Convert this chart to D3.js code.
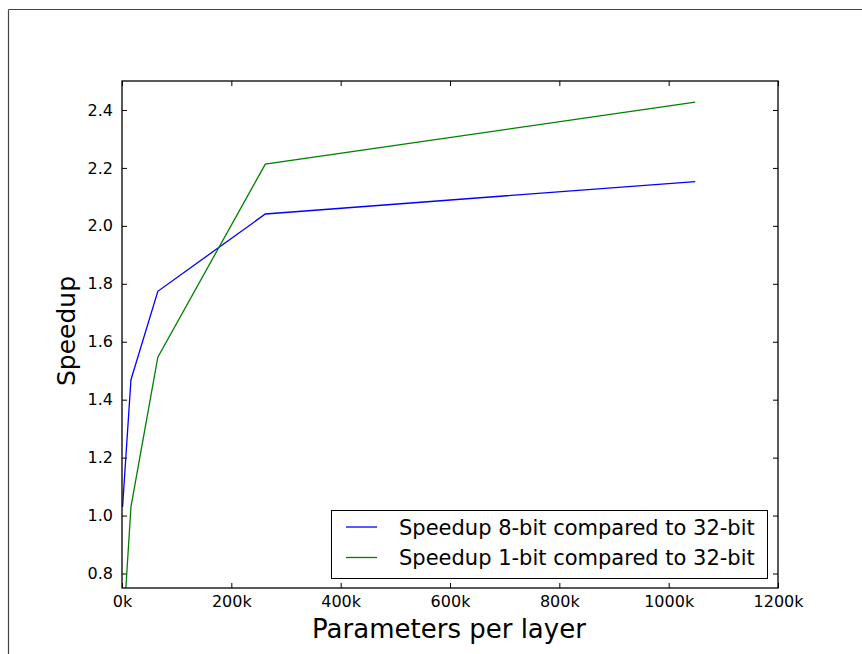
<!DOCTYPE html>
<html>
<head>
<meta charset="utf-8">
<script src="https://cdn.jsdelivr.net/npm/d3@7"></script>
<style>
  body { margin: 0; background: #fff; }
  svg { display: block; font-family: "DejaVu Sans", sans-serif; }
</style>
</head>
<body>
<svg id="chart" width="862" height="654"></svg>
<script>
// Data
const params = [1024, 16384, 65536, 262144, 1048576];
const speedup8bit = [1.03, 1.469, 1.774, 2.041, 2.153];
const speedup1bit = [0.57, 1.03, 1.547, 2.213, 2.427];
const seriesNames = ["Speedup 8-bit compared to 32-bit", "Speedup 1-bit compared to 32-bit"];
const seriesColors = ["#0000ff", "#008000"];
const xTicks = [0, 200000, 400000, 600000, 800000, 1000000, 1200000];
const yTicks = [0.8, 1.0, 1.2, 1.4, 1.6, 1.8, 2.0, 2.2, 2.4];

const svg = d3.select("#chart");
const W = 862, H = 654;
const m = { left: 122, top: 81, right: 778, bottom: 588 };

// outer frame (top & left edges visible)
svg.append("line").attr("x1", 8.5).attr("x2", 8.5).attr("y1", 9.5).attr("y2", H).attr("stroke", "#444").attr("stroke-width", 1.2);
svg.append("line").attr("x1", 8.5).attr("x2", W).attr("y1", 9.5).attr("y2", 9.5).attr("stroke", "#444").attr("stroke-width", 1.2);

const x = d3.scaleLinear().domain([0, 1200000]).range([m.left, m.right]);
const y = d3.scaleLinear().domain([0.75, 2.5]).range([m.bottom, m.top]);

svg.append("defs").append("clipPath").attr("id", "clip")
  .append("rect").attr("x", m.left).attr("y", m.top)
  .attr("width", m.right - m.left).attr("height", m.bottom - m.top);

const fmtK = d => (d / 1000) + "k";
const tickLen = 5;

// Bottom axis
const gB = svg.append("g").attr("transform", `translate(0,${m.bottom})`)
  .call(d3.axisBottom(x).tickValues(xTicks).tickFormat(fmtK).tickSizeInner(-tickLen).tickSizeOuter(0).tickPadding(8));
// Top axis
const gT = svg.append("g").attr("transform", `translate(0,${m.top})`)
  .call(d3.axisTop(x).tickValues(xTicks).tickFormat("").tickSizeInner(-tickLen).tickSizeOuter(0));
// Left axis
const gL = svg.append("g").attr("transform", `translate(${m.left},0)`)
  .call(d3.axisLeft(y).tickValues(yTicks).tickFormat(d3.format(".1f")).tickSizeInner(-tickLen).tickSizeOuter(0).tickPadding(9));
// Right axis
const gR = svg.append("g").attr("transform", `translate(${m.right},0)`)
  .call(d3.axisRight(y).tickValues(yTicks).tickFormat("").tickSizeInner(-tickLen).tickSizeOuter(0));

[gB, gT, gL, gR].forEach(g => {
  g.select(".domain").remove();
  g.selectAll(".tick line").attr("stroke", "#000").attr("stroke-width", 1);
  g.selectAll(".tick text").attr("font-size", 16).attr("fill", "#000")
    .attr("font-family", "DejaVu Sans, sans-serif");
});
gB.selectAll(".tick text").attr("dy", "0.71em");

// Lines
const line = d3.line().x((d, i) => x(params[i])).y(d => y(d));
const plot = svg.append("g").attr("clip-path", "url(#clip)");
[speedup8bit, speedup1bit].forEach((s, k) => {
  plot.append("path").datum(s).attr("d", line)
    .attr("fill", "none").attr("stroke", seriesColors[k]).attr("stroke-width", 1.3);
});

// Plot frame
svg.append("rect").attr("x", m.left).attr("y", m.top)
  .attr("width", m.right - m.left).attr("height", m.bottom - m.top)
  .attr("fill", "none").attr("stroke", "#000").attr("stroke-width", 1.3);

// Axis labels
svg.append("text").attr("x", 449).attr("y", 638)
  .attr("text-anchor", "middle").attr("font-size", 26).attr("fill", "#000")
  .text("Parameters per layer");
svg.append("text").attr("transform", `translate(75,331) rotate(-90)`)
  .attr("text-anchor", "middle").attr("font-size", 25).attr("fill", "#000")
  .text("Speedup");

// Legend
const lg = svg.append("g");
lg.append("rect").attr("x", 331.5).attr("y", 510.5).attr("width", 436).attr("height", 68)
  .attr("fill", "#fff").attr("stroke", "#000").attr("stroke-width", 1);
seriesNames.forEach((name, k) => {
  const cy = 527 + k * 30.5;
  lg.append("line").attr("x1", 346).attr("x2", 377).attr("y1", cy).attr("y2", cy)
    .attr("stroke", seriesColors[k]).attr("stroke-width", 1.3);
  lg.append("text").attr("x", 399).attr("y", cy).attr("dy", "0.36em")
    .attr("font-size", 21).attr("fill", "#000").text(name);
});
</script>
</body>
</html>
